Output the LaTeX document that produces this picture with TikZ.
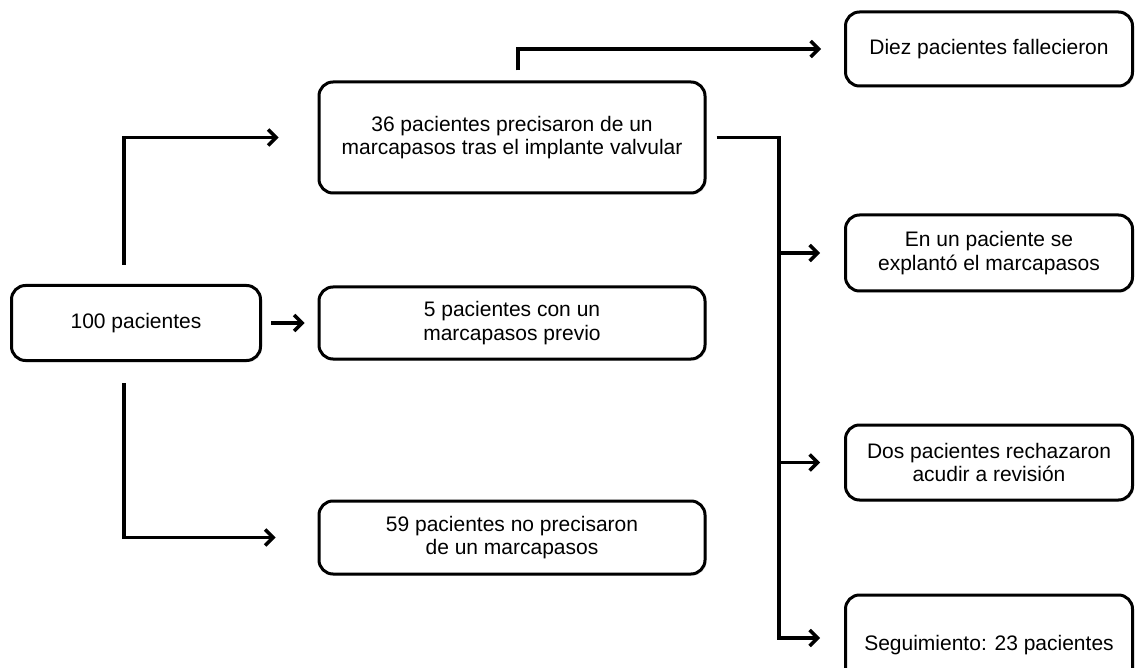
\documentclass[tikz,border=0pt]{standalone}
\usepackage{fontspec}
\setmainfont{Liberation Sans}
\usetikzlibrary{arrows.meta,shadows}

\tikzset{
  box/.style={draw, line width=3pt, rounded corners=14pt, fill=white, align=center,
    font=\fontsize{21}{23.5}\selectfont,
    drop shadow={shadow xshift=1.5pt, shadow yshift=-1.5pt, opacity=0.25}},
  link/.style={line width=3.5pt, -{Straight Barb[length=8pt,width=16pt]}}
}

\begin{document}
\begin{tikzpicture}[x=1pt, y=-1pt]

% Frame
\clip (0,0) rectangle (1135,668);
\fill[white] (0,0) rectangle (1135,668);

% Boxes
\node[box, minimum width=249pt, minimum height=75pt]  (total) at (136,323)   {100 pacientes};
\node[box, minimum width=386pt, minimum height=111pt] (pre)   at (512,137.5) {36 pacientes precisaron de un\\marcapasos tras el implante valvular};
\node[box, minimum width=386pt, minimum height=72pt]  (prev)  at (512,323)   {5 pacientes con un\\marcapasos previo};
\node[box, minimum width=386pt, minimum height=73pt]  (none)  at (512,537.5) {59 pacientes no precisaron\\de un marcapasos};
\node[box, minimum width=287pt, minimum height=74pt]  (dead)  at (989,49)    {Diez pacientes fallecieron};
\node[box, minimum width=287pt, minimum height=76pt]  (expl)  at (989,253)   {En un paciente se\\explantó el marcapasos};
\node[box, minimum width=287pt, minimum height=75pt]  (refu)  at (989,462.5) {Dos pacientes rechazaron\\acudir a revisión};
\node[box, minimum width=287pt, minimum height=100pt] (follow) at (989,645)  {Seguimiento: 23 pacientes};

% Bus on the right
\coordinate (bus) at (779,638);

% Arrows
\draw[link, shorten <=19pt, shorten >=39pt] ([xshift=-12pt]total.north) |- (pre.west);
\draw[link, shorten <=21pt, shorten >=42pt] ([xshift=-12pt]total.south) |- (none.west);
\draw[link, shorten <=9pt,  shorten >=13pt] (total.east) -- (prev.west);
\draw[link, shorten <=10pt, shorten >=23pt] ([xshift=6pt]pre.north) |- (dead.west);
\draw[link, shorten <=10pt, shorten >=24pt] (pre.east) -| (bus) -- (bus -| follow.west);
\draw[link, shorten >=24pt] (bus |- expl.west) -- (expl.west);
\draw[link, shorten >=24pt] (bus |- refu.west) -- (refu.west);

\end{tikzpicture}
\end{document}
